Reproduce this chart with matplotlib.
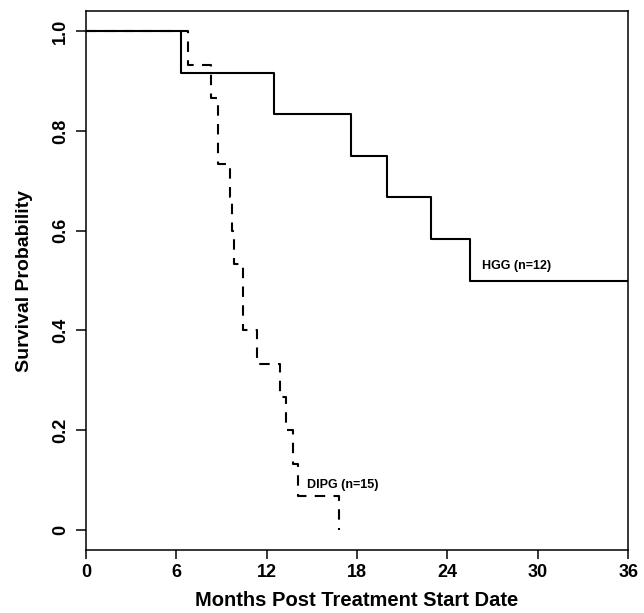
import matplotlib
matplotlib.use("Agg")
import matplotlib.pyplot as plt

plt.rcParams['font.family'] = ['Liberation Sans', 'DejaVu Sans']

# HGG curve (solid)
hgg_months = [0, 6.3, 12.45, 17.6, 20.0, 22.9, 25.5, 36]
hgg_surv = [1.0, 0.917, 0.833, 0.75, 0.667, 0.583, 0.5, 0.5]

# DIPG curve (dashed)
dipg_months = [0, 6.76, 8.30, 8.79, 9.53, 9.69, 9.86, 10.41, 11.37, 12.87,
               13.26, 13.75, 14.08, 16.82]
dipg_surv = [1.0, 0.933, 0.867, 0.733, 0.667, 0.6, 0.533, 0.4, 0.333, 0.267,
             0.2, 0.133, 0.067, 0.0]

xticks = [0, 6, 12, 18, 24, 30, 36]
yticks = [0, 0.2, 0.4, 0.6, 0.8, 1.0]
ylabels = ["0", "0.2", "0.4", "0.6", "0.8", "1.0"]

fig = plt.figure(figsize=(6.44, 6.13), dpi=100)
ax = fig.add_axes([0.1335, 0.103, 0.842, 0.8787])

ax.plot(hgg_months, hgg_surv, drawstyle='steps-post', color='black', lw=1.5)
ax.plot(dipg_months, dipg_surv, drawstyle='steps-post', color='black', lw=1.5,
        dashes=(5, 4))

ax.text(26.3, 0.529, "HGG (n=12)", fontsize=9, fontweight='bold',
        ha='left', va='center')
ax.text(14.68, 0.09, "DIPG (n=15)", fontsize=9, fontweight='bold',
        ha='left', va='center')

ax.set_xlim(0, 36)
ax.set_ylim(-0.04, 1.04)
ax.set_xticks(xticks)
ax.set_xticklabels([str(t) for t in xticks], fontsize=13, fontweight='bold')
ax.set_yticks(yticks)
ax.set_yticklabels(ylabels, fontsize=13, fontweight='bold', rotation=90,
                   va='center')
ax.tick_params(axis='x', length=6.5, width=1.1, pad=4)
ax.tick_params(axis='y', length=7, width=1.1, pad=5)
for s in ax.spines.values():
    s.set_linewidth(1.1)

ax.set_xlabel("Months Post Treatment Start Date", fontsize=14.5,
              fontweight='bold', labelpad=7)
ax.set_ylabel("Survival Probability", fontsize=14, fontweight='bold',
              labelpad=14)

plt.savefig("out.png", dpi=100)
